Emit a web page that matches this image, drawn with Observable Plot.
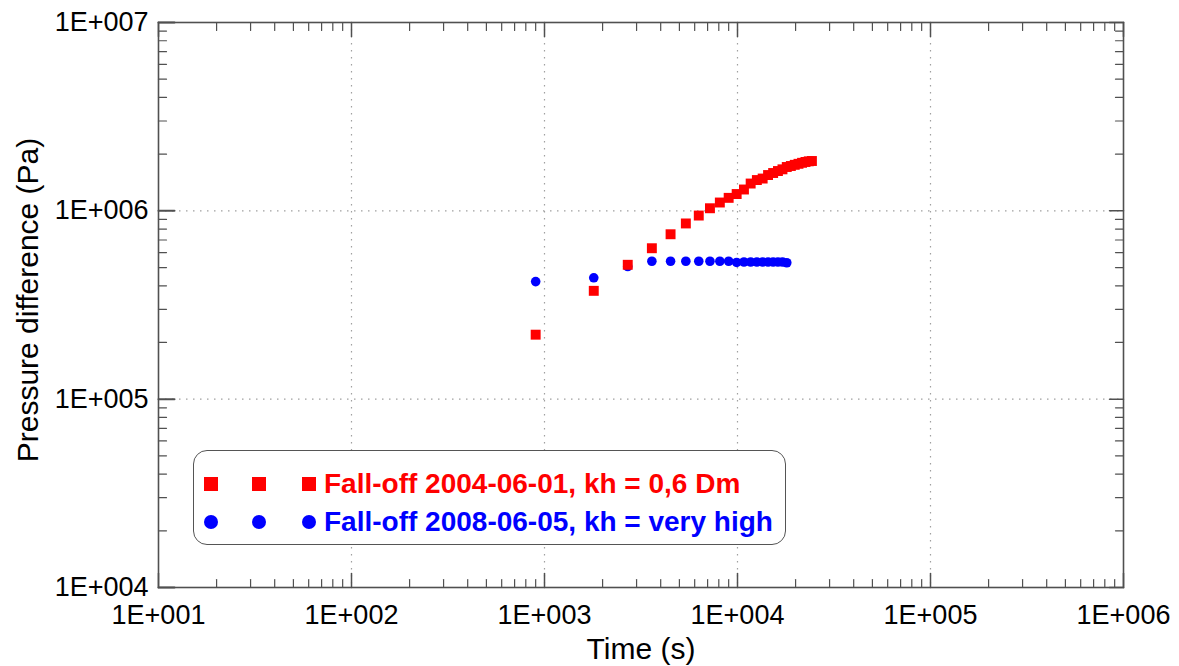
<!DOCTYPE html>
<html><head><meta charset="utf-8">
<script src="https://cdn.jsdelivr.net/npm/d3@7"></script>
<script src="https://cdn.jsdelivr.net/npm/@observablehq/plot@0.6"></script>
<style>
html,body{margin:0;padding:0;background:#fff;}
#wrap{position:relative;width:1179px;height:666px;font-family:"Liberation Sans",Arial,sans-serif;color:#000;}
#legend{position:absolute;left:193px;top:450px;width:591px;height:93px;border:1.5px solid #555;border-radius:14px;background:#fff;}
.row{position:absolute;left:0;width:100%;height:0;}
.sym{position:absolute;width:14px;height:14px;margin-left:-7px;margin-top:-7px;}
.txt{position:absolute;left:130px;top:0;transform:translateY(-50%);font-weight:bold;font-size:28px;white-space:nowrap;line-height:1;}
</style></head>
<body><div id="wrap"></div>
<script>
// ---- data ----
const seriesNames = ["Fall-off 2004-06-01, kh = 0,6 Dm", "Fall-off 2008-06-05, kh = very high"];
const seriesColors = ["#ff0000", "#0000ff"];
const redTime = [900, 1800, 2700, 3600, 4500, 5400, 6300, 7200, 8100, 9000, 9900, 10800, 11700, 12600, 13500, 14400, 15300, 16200, 17100, 18000, 18900, 19800, 20700, 21600, 22500, 23400, 24300];
const redPressure = [220000, 376000, 517000, 633000, 751000, 857000, 944000, 1032000, 1107000, 1172000, 1228000, 1298000, 1396000, 1457000, 1484000, 1549000, 1588000, 1627000, 1661000, 1709000, 1730000, 1755000, 1777000, 1799000, 1817000, 1832000, 1839000];
const blueTime = [900, 1800, 2700, 3600, 4500, 5400, 6300, 7200, 8100, 9000, 9900, 10800, 11700, 12600, 13500, 14400, 15300, 16200, 17100, 18000];
const bluePressure = [421000, 441000, 506000, 540000, 540000, 540000, 540000, 540000, 540000, 540000, 532000, 535000, 535000, 535000, 535000, 535000, 535000, 535000, 535000, 530000];
const xMajor = [1e1, 1e2, 1e3, 1e4, 1e5, 1e6];
const xTickLabels = ["1E+001", "1E+002", "1E+003", "1E+004", "1E+005", "1E+006"];
const yMajor = [1e4, 1e5, 1e6, 1e7];
const yTickLabels = ["1E+004", "1E+005", "1E+006", "1E+007"];
const xTitle = "Time (s)";
const yTitle = "Pressure difference (Pa)";

const red = redTime.map((t, i) => ({t, p: redPressure[i]}));
const blue = blueTime.map((t, i) => ({t, p: bluePressure[i]}));
const minorOf = majors => majors.slice(0, -1).flatMap(m => [2,3,4,5,6,7,8,9].map(k => k * m));
const xMinor = minorOf(xMajor), yMinor = minorOf(yMajor);
const xInner = xMajor.slice(1, -1), yInner = yMajor.slice(1, -1);

const tickShape = {draw(ctx, l) { ctx.moveTo(0, 0); ctx.lineTo(0, -l); }};
const tc = "#505050";
const ticks = (data, ch, anchor, rotate, len, sw) =>
  Plot.vector(data, {[ch]: d => d, frameAnchor: anchor, rotate, length: len, anchor: "start", shape: tickShape, stroke: tc, strokeWidth: sw});

const chart = Plot.plot({
  width: 1179, height: 666,
  marginLeft: 158, marginRight: 56, marginTop: 22, marginBottom: 79,
  style: {fontFamily: "'Liberation Sans', Arial, sans-serif", fontSize: "27px", color: "#000", background: "#fff", overflow: "visible"},
  x: {type: "log", domain: [1e1, 1e6], axis: null},
  y: {type: "log", domain: [1e4, 1e7], axis: null},
  marks: [
    Plot.gridX(xInner, {stroke: "#a0a0a0", strokeOpacity: 1, strokeDasharray: "1.5,5.5", strokeWidth: 1.2}),
    Plot.gridY(yInner, {stroke: "#a0a0a0", strokeOpacity: 1, strokeDasharray: "1.5,5.5", strokeWidth: 1.2}),
    ticks(xMinor, "x", "bottom", 0, 8, 1.2),
    ticks(xMinor, "x", "top", 180, 8, 1.2),
    ticks(yMinor, "y", "left", 90, 8, 1.2),
    ticks(yMinor, "y", "right", 270, 8, 1.2),
    ticks(xMajor, "x", "bottom", 0, 14, 1.5),
    ticks(xMajor, "x", "top", 180, 14, 1.5),
    ticks(yMajor, "y", "left", 90, 16, 2),
    ticks(yMajor, "y", "right", 270, 14, 1.5),
    Plot.frame({stroke: tc, strokeWidth: 1.6}),
    Plot.text(xMajor, {x: d => d, frameAnchor: "bottom", dy: 28, lineAnchor: "middle", text: (d, i) => xTickLabels[i], fontSize: 27, fill: "#000"}),
    Plot.text(yMajor, {y: d => d, frameAnchor: "left", dx: -10, textAnchor: "end", lineAnchor: "middle", text: (d, i) => yTickLabels[i], fontSize: 27, fill: "#000"}),
    Plot.text([xTitle], {frameAnchor: "bottom", dy: 62, lineAnchor: "middle", textAnchor: "middle", text: d => d, fontSize: 30, fill: "#000"}),
    Plot.text([yTitle], {frameAnchor: "left", dx: -130, dy: -5, rotate: -90, lineAnchor: "middle", textAnchor: "middle", text: d => d, fontSize: 30, fill: "#000"}),
    Plot.dot(blue, {x: "t", y: "p", r: 4.8, fill: seriesColors[1], symbol: "circle"}),
    Plot.dot(red, {x: "t", y: "p", r: 5.6, fill: seriesColors[0], symbol: "square"})
  ]
});
const wrap = document.getElementById("wrap");
wrap.appendChild(chart);

// legend
const legend = document.createElement("div");
legend.id = "legend";
const rowY = [33, 71], symX = [17, 65, 115];
seriesNames.forEach((name, i) => {
  const row = document.createElement("div");
  row.className = "row"; row.style.top = rowY[i] + "px";
  symX.forEach(x => {
    const s = document.createElement("div");
    s.className = "sym"; s.style.left = x + "px"; s.style.background = seriesColors[i];
    if (i === 1) s.style.borderRadius = "50%";
    row.appendChild(s);
  });
  const t = document.createElement("div");
  t.className = "txt"; t.textContent = name; t.style.color = seriesColors[i];
  row.appendChild(t);
  legend.appendChild(row);
});
wrap.appendChild(legend);
</script></body></html>
